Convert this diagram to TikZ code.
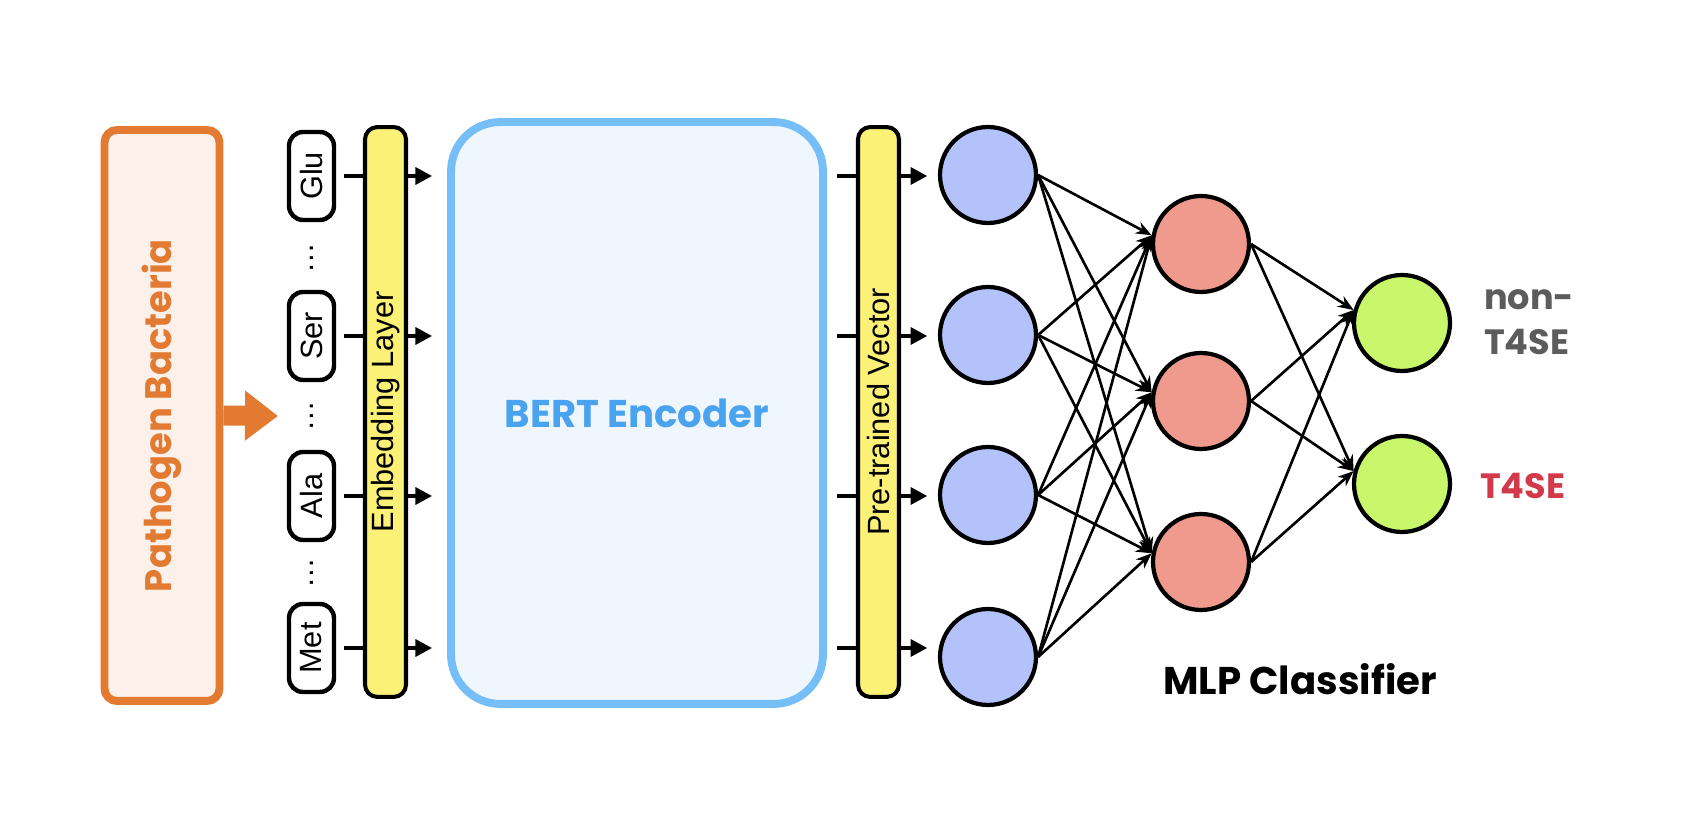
\documentclass[tikz,border=0pt]{standalone}
\usepackage{fontspec}
\setmainfont{Liberation Sans}
\newfontfamily\handfont{Poppins}
\usepackage{tikz}
\usetikzlibrary{positioning,arrows.meta,calc}
\definecolor{bactc}{HTML}{E27A31}
\definecolor{bactfill}{HTML}{FCF0EA}
\definecolor{layerc}{HTML}{FBF176}
\definecolor{bertc}{HTML}{76BEF8}
\definecolor{bertfill}{HTML}{EFF6FD}
\definecolor{berttext}{HTML}{4AA3EE}
\definecolor{inc}{HTML}{B3C2FA}
\definecolor{hidc}{HTML}{F09A8E}
\definecolor{outc}{HTML}{C8F76B}
\definecolor{negc}{HTML}{5C5C5C}
\definecolor{posc}{HTML}{D23A4B}
\tikzset{
  srcbox/.style={rounded corners=7pt, draw=bactc, fill=bactfill, line width=4.5pt,
              minimum width=2.3cm, minimum height=11.42cm, inner sep=0pt},
  tokbox/.style={rounded corners=8pt, draw=black, fill=white, line width=2.5pt,
              minimum width=0.9cm, minimum height=1.76cm, inner sep=0pt,
              font=\fontsize{17.5}{21}\selectfont},
  layerbox/.style={rounded corners=7pt, draw=black, fill=layerc, line width=2.3pt,
              minimum width=0.82cm, minimum height=11.4cm, inner sep=0pt,
              font=\fontsize{17.5}{21}\selectfont},
  bertbox/.style={rounded corners=28pt, draw=bertc, fill=bertfill, line width=4.5pt,
              minimum width=7.44cm, minimum height=11.64cm, inner sep=0pt},
  neuron/.style={circle, draw=black, line width=2.4pt, minimum size=1.92cm, inner sep=0pt},
  handlbl/.style={font=\handfont\bfseries\fontsize{20}{25.6}\selectfont},
  feed/.style={line width=2.3pt, -{Triangle[length=9.5pt,width=9.5pt]}},
  feedline/.style={line width=2.3pt},
  link/.style={line width=1.5pt, -{Stealth[length=9pt,width=7pt]}},
  bigarrow/.style={draw=bactc, line width=0.4cm, -{Triangle[length=0.66cm,width=0.96cm]}},
}
\begin{document}
\begin{tikzpicture}[x=0.02cm, y=0.02cm]
\useasboundingbox (0,0) rectangle (1700,817);

% source and token sequence
\node[srcbox] (bact) at (162,401.5) {\rotatebox{90}{\handfont\bfseries\fontsize{21}{25}\selectfont\textcolor{bactc}{Pathogen Bacteria}}};
\coordinate (seqin) at (278,401);
\draw[bigarrow] (bact.east) -- (seqin);

\node[tokbox] (glu) at (311.5,641) {\rotatebox{90}{Glu}};
\node[tokbox] (ser) at (311.5,481) {\rotatebox{90}{Ser}};
\node[tokbox] (ala) at (311.5,321) {\rotatebox{90}{Ala}};
\node[tokbox] (met) at (311.5,169) {\rotatebox{90}{Met}};
\node[font=\fontsize{17.5}{21}\selectfont] (dot1) at (312,559) {\rotatebox{90}{…}};
\node[font=\fontsize{17.5}{21}\selectfont] (dot2) at (312,400.5) {\rotatebox{90}{…}};
\node[font=\fontsize{17.5}{21}\selectfont] (dot3) at (312,243.5) {\rotatebox{90}{…}};

% encoder
\node[layerbox] (emb) at (385.5,405) {\rotatebox{90}{Embedding Layer}};
\node[bertbox] (bert) at (637,404) {\handfont\bfseries\fontsize{22}{26}\selectfont\textcolor{berttext}{BERT Encoder}};
\node[layerbox] (pv) at (878.5,405) {\rotatebox{90}{Pre-trained Vector}};

% MLP
\node[neuron, fill=inc] (in1) at (988,642) {};
\node[neuron, fill=inc] (in2) at (988,482) {};
\node[neuron, fill=inc] (in3) at (988,322) {};
\node[neuron, fill=inc] (in4) at (988,160) {};
\node[neuron, fill=hidc] (h1) at (1201,573) {};
\node[neuron, fill=hidc] (h2) at (1201,416) {};
\node[neuron, fill=hidc] (h3) at (1201,255) {};
\node[neuron, fill=outc] (o1) at (1402,494) {};
\node[neuron, fill=outc] (o2) at (1402,333) {};

\node[handlbl, text=negc, align=left, anchor=west] (neg) at (1478,495) {non-\\T4SE};
\node[handlbl, text=posc, anchor=west] (pos) at (1474,331) {T4SE};
\node[handlbl, font=\handfont\bfseries\fontsize{22}{26}\selectfont] (mlp) at (1300,138) {MLP Classifier};

% tokens -> embedding -> BERT -> vector -> inputs
\foreach \t in {glu,ser,ala,met}{
  \draw[feedline, shorten <=4.5pt] (\t.east) -- (\t -| emb.west);
  \draw[feed, shorten >=8.5pt] (\t -| emb.east) -- (\t -| bert.west);
  \draw[feedline, shorten <=6pt] (\t -| bert.east) -- (\t -| pv.west);
}
\draw[feed, shorten >=6pt] (glu -| pv.east) -- (glu -| in1.west);
\draw[feed, shorten >=6pt] (ser -| pv.east) -- (ser -| in2.west);
\draw[feed, shorten >=6pt] (ala -| pv.east) -- (ala -| in3.west);
\draw[feed, shorten >=6pt] (met -| pv.east) -- (met -| in4.west);

\draw[link] (in1.east) -- (h1.170); \draw[link] (in1.east) -- (h2.170); \draw[link] (in1.east) -- (h3.170);
\draw[link] (in2.east) -- (h1.170); \draw[link] (in2.east) -- (h2.170); \draw[link] (in2.east) -- (h3.170);
\draw[link] (in3.east) -- (h1.170); \draw[link] (in3.east) -- (h2.170); \draw[link] (in3.east) -- (h3.170);
\draw[link] (in4.east) -- (h1.170); \draw[link] (in4.east) -- (h2.170); \draw[link] (in4.east) -- (h3.170);
\draw[link] (h1.east) -- (o1.165); \draw[link] (h1.east) -- (o2.165);
\draw[link] (h2.east) -- (o1.165); \draw[link] (h2.east) -- (o2.165);
\draw[link] (h3.east) -- (o1.165); \draw[link] (h3.east) -- (o2.165);
\end{tikzpicture}
\end{document}
